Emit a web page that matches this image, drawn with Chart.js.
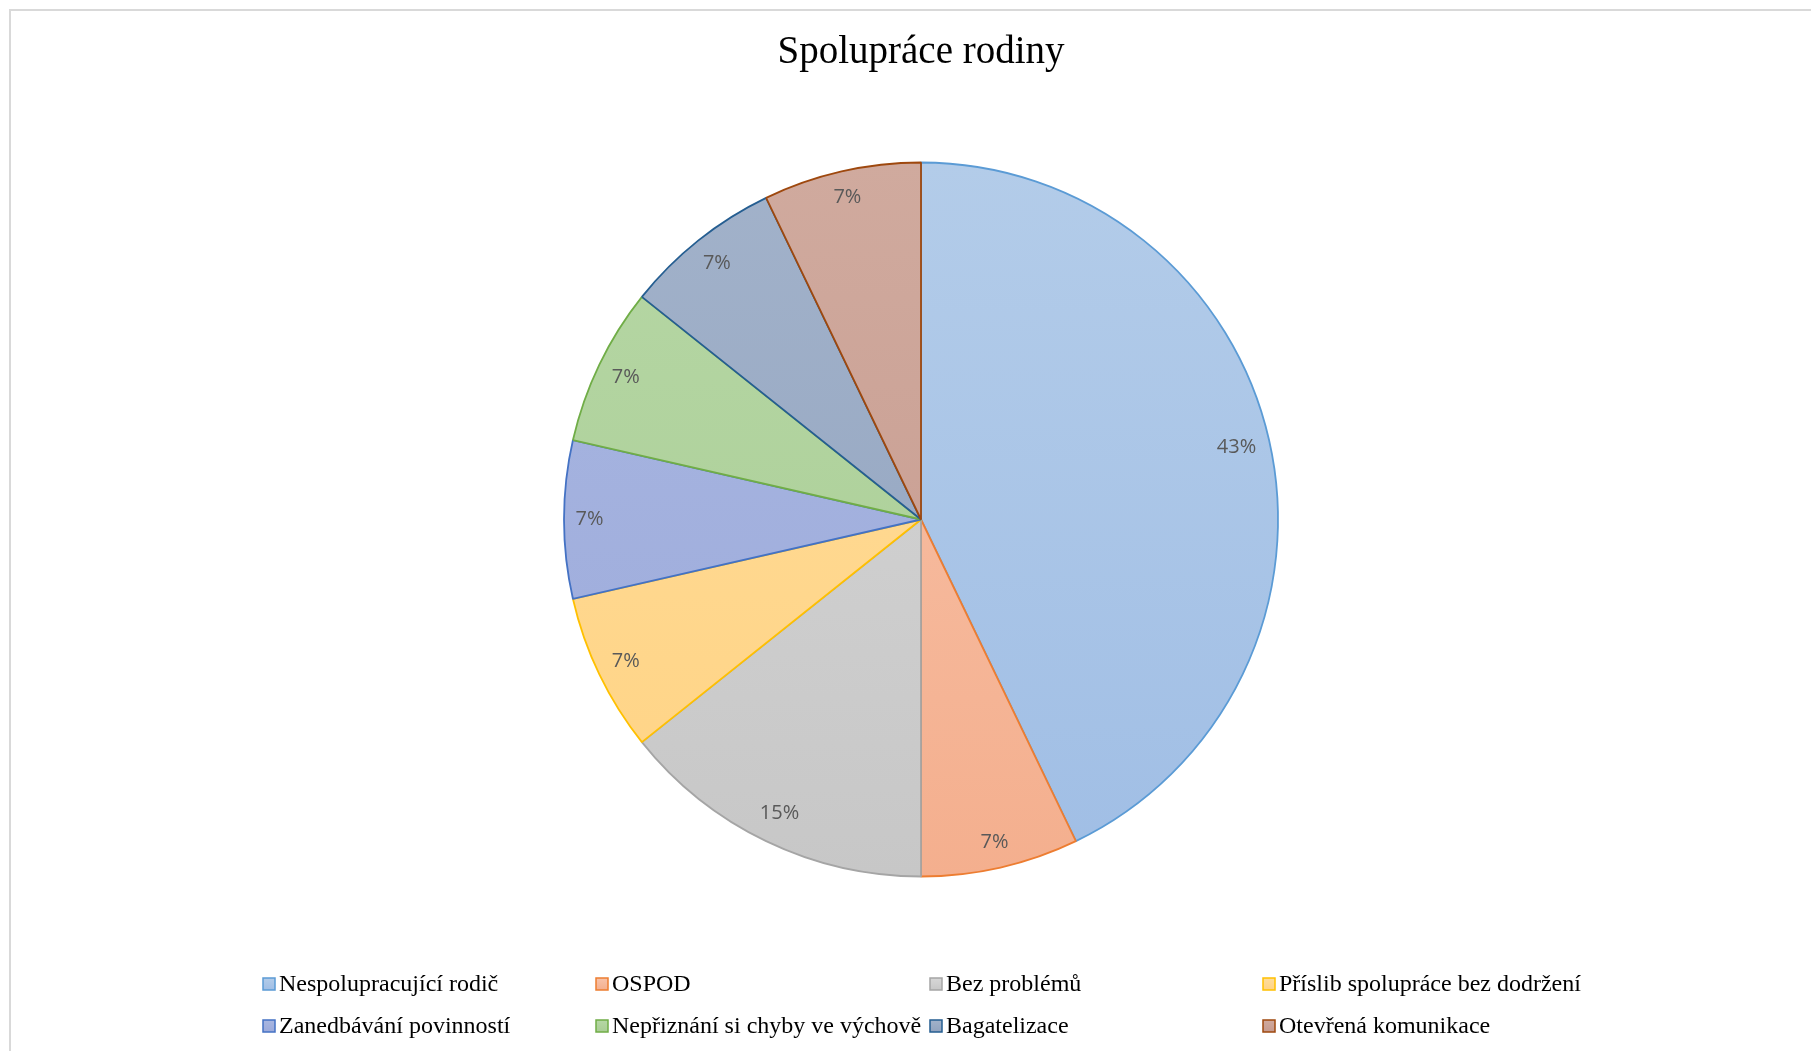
<!DOCTYPE html>
<html>
<head>
<meta charset="utf-8">
<script src="https://cdn.jsdelivr.net/npm/chart.js@4/dist/chart.umd.min.js"></script>
<style>
    html, body { margin: 0; padding: 0; background: #fff; overflow: hidden; }
    #wrap { position: relative; width: 1811px; height: 1051px; }
    #frame { position: absolute; left: 9px; top: 9px; width: 1900px; height: 1200px;
             border-top: 2px solid #d9d9d9; border-left: 2px solid #d9d9d9; }
    #chart { position: absolute; left: 0; top: 0; }
</style>
</head>
<body>
<div id="wrap">
    <div id="frame"></div>
    <canvas id="chart" width="1811" height="1051"></canvas>
</div>
<script>
const chartTitle = 'Spolupráce rodiny';
const categories = [
    'Nespolupracující rodič',
    'OSPOD',
    'Bez problémů',
    'Příslib spolupráce bez dodržení',
    'Zanedbávání povinností',
    'Nepřiznání si chyby ve výchově',
    'Bagatelizace',
    'Otevřená komunikace'
];
// counts, labels as printed on the chart
const counts = [6, 1, 2, 1, 1, 1, 1, 1];
const percentLabels = ['43%', '7%', '15%', '7%', '7%', '7%', '7%', '7%'];

// gradient fill (top, bottom) and outline per slice
const fillTop = ['#b3cce9', '#f8c3aa', '#d7d7d7', '#ffdd9b', '#a9b7e1', '#b6d7a5', '#a2b2ca', '#d0aa9e'];
const fillBottom = ['#a0bee5', '#f4af8e', '#c7c7c7', '#ffd384', '#9caadb', '#a9cd94', '#91a3bf', '#c69a8e'];
const outline = ['#5b9bd5', '#ed7d31', '#a5a5a5', '#ffc000', '#4472c4', '#70ad47', '#255e91', '#9e480e'];

function sliceFill(context) {
    const area = context.chart.chartArea;
    if (!area) return fillTop[context.dataIndex];
    const g = context.chart.ctx.createLinearGradient(0, area.top, 0, area.bottom);
    g.addColorStop(0, fillTop[context.dataIndex]);
    g.addColorStop(1, fillBottom[context.dataIndex]);
    return g;
}

const extrasPlugin = {
    id: 'extras',
    afterDatasetsDraw(chart) {
        const ctx = chart.ctx;
        const meta = chart.getDatasetMeta(0);
        ctx.save();
        // percentage labels, kept inside the rim like Excel's best fit
        ctx.font = '20px "Open Sans"';
        ctx.fillStyle = '#595959';
        ctx.textAlign = 'center';
        ctx.textBaseline = 'middle';
        meta.data.forEach((arc, i) => {
            const text = percentLabels[i];
            const mid = (arc.startAngle + arc.endAngle) / 2;
            const hw = ctx.measureText(text).width / 2;
            const r = arc.outerRadius - 11.5 - Math.abs(Math.cos(mid)) * hw - Math.abs(Math.sin(mid)) * 12;
            ctx.fillText(text, arc.x + Math.cos(mid) * r, arc.y + Math.sin(mid) * r);
        });
        // title
        ctx.font = '39px "Liberation Serif"';
        ctx.fillStyle = '#000';
        ctx.fillText(chartTitle, 921, 53);
        // legend grid
        const colX = [263, 596, 930, 1263];
        const rowY = [984, 1026];
        ctx.font = '24px "Liberation Serif"';
        ctx.textAlign = 'left';
        categories.forEach((label, i) => {
            const x = colX[i % 4];
            const y = rowY[Math.floor(i / 4)];
            const g = ctx.createLinearGradient(0, y - 6, 0, y + 6);
            g.addColorStop(0, fillTop[i]);
            g.addColorStop(1, fillBottom[i]);
            ctx.fillStyle = g;
            ctx.fillRect(x, y - 6, 12, 12);
            ctx.strokeStyle = outline[i];
            ctx.lineWidth = 1.5;
            ctx.strokeRect(x, y - 6, 12, 12);
            ctx.fillStyle = '#000';
            ctx.fillText(label, x + 16, y + 1);
        });
        ctx.restore();
    }
};

function createChart() {
    const ctx = document.getElementById('chart').getContext('2d');
    return new Chart(ctx, {
        type: 'pie',
        data: {
            labels: categories,
            datasets: [{
                data: counts,
                backgroundColor: sliceFill,
                borderColor: outline,
                borderWidth: 1.8
            }]
        },
        options: {
            responsive: false,
            animation: false,
            radius: 357,
            layout: {
                padding: { top: 162, bottom: 174, left: 564, right: 533 }
            },
            plugins: {
                legend: { display: false },
                title: { display: false },
                tooltip: { enabled: false }
            }
        },
        plugins: [extrasPlugin]
    });
}

createChart();
</script>
</body>
</html>
